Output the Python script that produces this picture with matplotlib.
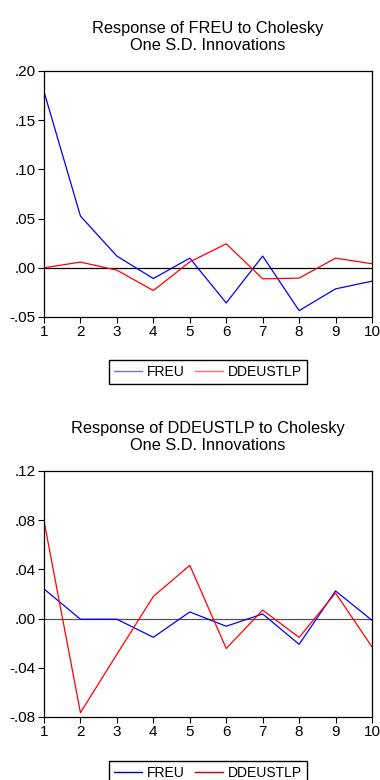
import numpy as np
import matplotlib
matplotlib.use("Agg")
import matplotlib.pyplot as plt
from matplotlib.ticker import FuncFormatter, MultipleLocator

plt.rcParams["font.family"] = ["Liberation Sans", "DejaVu Sans"]

periods = np.arange(1, 11)

# response of FREU
freu_freu = [0.179, 0.0526, 0.0119, -0.0109, 0.0098, -0.0357, 0.0119, -0.0435, -0.0214, -0.0136]
freu_ddeu = [0.0, 0.0058, -0.0024, -0.0231, 0.0060, 0.0244, -0.0112, -0.0105, 0.0098, 0.0041]

# response of DDEUSTLP
ddeu_freu = [0.0241, -0.0005, -0.0005, -0.0152, 0.0054, -0.0062, 0.0038, -0.0209, 0.0225, -0.0014]
ddeu_ddeu = [0.0794, -0.0765, -0.029, 0.018, 0.0433, -0.0243, 0.0069, -0.0153, 0.0208, -0.023]

titles = ["Response of FREU to Cholesky\nOne S.D. Innovations",
          "Response of DDEUSTLP to Cholesky\nOne S.D. Innovations"]
names = ["FREU", "DDEUSTLP"]


def fmt(v, pos):
    return f"{v:.2f}".replace("0.", ".", 1)


W, H = 380, 780
fig = plt.figure(figsize=(W / 100, H / 100), dpi=100)


def panel(box, y1, y2, ylim, step, title, zcol, lcols, leg_top):
    left, top, right, bottom = box
    ax = fig.add_axes([left / W, 1 - bottom / H, (right - left) / W, (bottom - top) / H])
    ax.plot(periods, y1, color="#0000ff", lw=0.9)
    ax.plot(periods, y2, color="#ff0000", lw=0.9)
    ax.axhline(0, color=zcol, lw=0.9, zorder=1)
    ax.set_xlim(1, 10)
    ax.set_ylim(*ylim)
    ax.xaxis.set_major_locator(MultipleLocator(1))
    ax.yaxis.set_major_locator(MultipleLocator(step))
    ax.yaxis.set_major_formatter(FuncFormatter(fmt))
    ax.tick_params(direction="out", length=4, width=0.8, labelsize=11, pad=2)
    for s in ax.spines.values():
        s.set_linewidth(0.9)
    ax.set_title(title, fontsize=11.8, pad=15, linespacing=1.2)
    h1, = ax.plot([], [], color=lcols[0], lw=1.0)
    h2, = ax.plot([], [], color=lcols[1], lw=1.0)
    fig.legend([h1, h2], names, loc="upper center",
               bbox_to_anchor=((left + right) / 2 / W, 1 - leg_top / H),
               ncol=2, fontsize=10, frameon=True, fancybox=False,
               edgecolor="black", framealpha=1, handlelength=2.0,
               handletextpad=0.4, columnspacing=0.7, borderpad=0.35,
               borderaxespad=0)
    return ax


panel((44, 71, 372, 317), freu_freu, freu_ddeu, (-0.05, 0.20), 0.05,
      titles[0], "black", ("#7070ff", "#ff7070"), 360)
panel((44, 471, 372, 717), ddeu_freu, ddeu_ddeu, (-0.08, 0.12), 0.04,
      titles[1], "#555555", ("#0000c0", "#d00000"), 761)

fig.savefig("out.png", dpi=100)
